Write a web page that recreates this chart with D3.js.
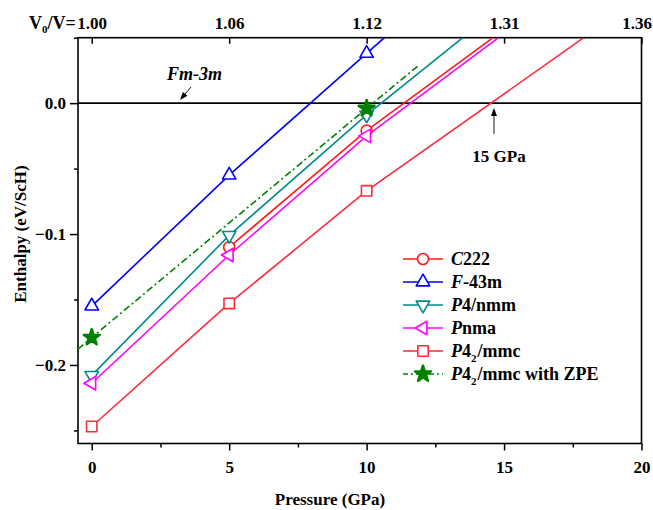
<!DOCTYPE html>
<html>
<head>
<meta charset="utf-8">
<script src="https://cdn.jsdelivr.net/npm/d3@7"></script>
<style>
  body { margin: 0; background: #fff; }
  svg text { font-family: "Liberation Serif", "Times New Roman", serif; font-weight: bold; fill: #000; }
</style>
</head>
<body>
<svg id="chart" width="653" height="510"></svg>
<script>
// Enthalpy (eV/ScH) against pressure (GPa) for ScH phases, relative to Fm-3m.
const seriesNames = ["C222", "F-43m", "P4/nmm", "Pnma", "P42/mmc", "P42/mmc with ZPE"];

const c222P  = [5, 10, 14.6];
const c222H  = [-0.110, -0.021, 0.050];
const f43mP  = [0, 5, 10, 10.65];
const f43mH  = [-0.155, -0.055, 0.038, 0.050];
const p4nmmP = [0, 5, 10, 13.5];
const p4nmmH = [-0.208, -0.101, -0.009, 0.050];
const pnmaP  = [0, 5, 10, 14.8];
const pnmaH  = [-0.214, -0.116, -0.025, 0.050];
const p42P   = [0, 5, 10, 17.9];
const p42H   = [-0.247, -0.153, -0.067, 0.050];
const zpeP   = [-0.5, 0, 10, 11.9];
const zpeH   = [-0.188, -0.179, -0.004, 0.029];

// pressures that carry a symbol
const markedPressures = [0, 5, 10];

const xTicks = [0, 5, 10, 15, 20];
const xMinorTicks = [2.5, 7.5, 12.5, 17.5];
const yTicks = [0.0, -0.1, -0.2];
const yMinorTicks = [0.05, -0.05, -0.15, -0.25];
const topTicks = [0, 5, 10, 15, 20];
const topLabels = ["1.00", "1.06", "1.12", "1.31", "1.36"];

const colors = ["#ff1a1a", "#0000ff", "#008b8b", "#ff00ff", "#ff2a3a", "#008000"];
const shapes = ["circle", "triUp", "triDown", "triLeft", "square", "star"];

const series = seriesNames.map((name, i) => {
  const P = [c222P, f43mP, p4nmmP, pnmaP, p42P, zpeP][i];
  const H = [c222H, f43mH, p4nmmH, pnmaH, p42H, zpeH][i];
  return { name, color: colors[i], shape: shapes[i], points: P.map((p, j) => ({ p, h: H[j] })) };
});

const svg = d3.select("#chart");
const L = 78, R = 641.5, T = 37.7, B = 443.5;

const x = d3.scaleLinear().domain([-0.5, 20]).range([L, R]);
const y = d3.scaleLinear().domain([-0.26, 0.05]).range([B, T]);

svg.append("defs").append("clipPath").attr("id", "plotClip")
  .append("rect").attr("x", L).attr("y", T).attr("width", R - L).attr("height", B - T);

// reference line H = 0
svg.append("line")
  .attr("x1", x(-0.5)).attr("x2", x(20)).attr("y1", y(0)).attr("y2", y(0))
  .attr("stroke", "#000").attr("stroke-width", 1.6);

// axes
const fontSize = 17;
function styleAxis(g) {
  g.select(".domain").remove();
  g.selectAll(".tick line").attr("stroke", "#000").attr("stroke-width", 1.5);
  g.selectAll(".tick text").style("font-size", fontSize + "px");
}

svg.append("g").attr("transform", `translate(0,${B})`)
  .call(d3.axisBottom(x).tickValues(xTicks).tickSize(7).tickPadding(10).tickFormat(d3.format("d")))
  .call(styleAxis);
svg.append("g").attr("transform", `translate(0,${B})`)
  .call(d3.axisBottom(x).tickValues(xMinorTicks).tickSize(4).tickFormat(""))
  .call(styleAxis);

svg.append("g").attr("transform", `translate(${L},0)`)
  .call(d3.axisLeft(y).tickValues(yTicks).tickSize(8).tickPadding(4).tickFormat(d3.format(".1f")))
  .call(styleAxis);
svg.append("g").attr("transform", `translate(${L},0)`)
  .call(d3.axisLeft(y).tickValues(yMinorTicks).tickSize(4).tickFormat(""))
  .call(styleAxis);

// top axis: compression ratio, ticks pointing inward
const topAxis = svg.append("g").attr("transform", `translate(0,${T})`)
  .call(d3.axisTop(x).tickValues(topTicks).tickSize(-6).tickFormat((d, i) => topLabels[i]))
  .call(styleAxis);
topAxis.selectAll(".tick text").attr("y", -9).attr("dy", 0)
  .attr("x", d => d === 20 ? -5 : 0);

// prefix of the first top label
const prefix = svg.append("text")
  .attr("x", x(0) - 16).attr("y", T - 9)
  .attr("text-anchor", "end")
  .style("font-size", "18px");
prefix.append("tspan").text("V");
prefix.append("tspan").attr("dy", 4).style("font-size", "11px").text("0");
prefix.append("tspan").attr("dy", -4).text("/V=");

// frame
svg.append("rect").attr("x", L).attr("y", T).attr("width", R - L).attr("height", B - T)
  .attr("fill", "none").attr("stroke", "#000").attr("stroke-width", 1.6);

// symbol paths centred on the origin
function symbolPath(shape) {
  const s = 13.5, h = s * Math.sqrt(3) / 2;
  switch (shape) {
    case "circle": return d3.symbol(d3.symbolCircle, 95)();
    case "square": return "M-5.2,-5.2H5.2V5.2H-5.2Z";
    case "triUp": return `M0,${-2 * h / 3}L${s / 2},${h / 3}L${-s / 2},${h / 3}Z`;
    case "triDown": return `M0,${2 * h / 3}L${s / 2},${-h / 3}L${-s / 2},${-h / 3}Z`;
    case "triLeft": return `M${-2 * h / 3},0L${h / 3},${-s / 2}L${h / 3},${s / 2}Z`;
    case "star": return d3.symbol(d3.symbolStar, 80)();
  }
}
function styleSymbol(sel, s) {
  const star = s.shape === "star";
  sel.attr("fill", star ? s.color : "#fff")
    .attr("stroke", s.color)
    .attr("stroke-width", star ? 2.4 : 1.6)
    .attr("stroke-linejoin", "round");
}

const line = d3.line().x(d => x(d.p)).y(d => y(d.h));
const plot = svg.append("g").attr("clip-path", "url(#plotClip)");

series.forEach(s => {
  plot.append("path").datum(s.points)
    .attr("d", line)
    .attr("fill", "none")
    .attr("stroke", s.color)
    .attr("stroke-width", 1.6)
    .attr("stroke-dasharray", s.shape === "star" ? "7,3,2,3" : null);
});

series.forEach(s => {
  plot.selectAll(null)
    .data(s.points.filter(d => markedPressures.includes(d.p)))
    .join("path")
    .attr("transform", d => `translate(${x(d.p)},${y(d.h)})`)
    .attr("d", symbolPath(s.shape))
    .call(styleSymbol, s);
});

// legend
const legend = svg.append("g");
const legendLabels = [
  [["C", true], ["222", false]],
  [["F", true], ["-43m", false]],
  [["P", true], ["4/nmm", false]],
  [["P", true], ["nma", false]],
  [["P", true], ["4", false], ["2", false, "sub"], ["/mmc", false]],
  [["P", true], ["4", false], ["2", false, "sub"], ["/mmc with ZPE", false]]
];
series.forEach((s, i) => {
  const cy = 259 + i * 23;
  const row = legend.append("g");
  row.append("line").attr("x1", 403).attr("x2", 443).attr("y1", cy).attr("y2", cy)
    .attr("stroke", s.color).attr("stroke-width", 1.6)
    .attr("stroke-dasharray", s.shape === "star" ? "5,3,2,3" : null);
  row.append("path").attr("transform", `translate(423,${cy})`).attr("d", symbolPath(s.shape))
    .call(styleSymbol, s);
  const t = row.append("text").attr("x", 451).attr("y", cy + 6).style("font-size", "18px");
  let shifted = false;
  legendLabels[i].forEach(([str, ital, sub]) => {
    const ts = t.append("tspan").text(str);
    if (ital) ts.style("font-style", "italic");
    if (sub) { ts.attr("dy", 5).style("font-size", "11px"); shifted = true; }
    else if (shifted) { ts.attr("dy", -5).attr("dx", 1); shifted = false; }
  });
});

// axis titles
svg.append("text").attr("x", 330).attr("y", 505).attr("text-anchor", "middle")
  .style("font-size", "17px").text("Pressure (GPa)");
svg.append("text").attr("transform", "translate(26,234) rotate(-90)").attr("text-anchor", "middle")
  .style("font-size", "17px").text("Enthalpy (eV/ScH)");

// annotations
function arrow(x1, y1, x2, y2) {
  const a = Math.atan2(y2 - y1, x2 - x1), len = 8, w = 3;
  svg.append("line").attr("x1", x1).attr("y1", y1).attr("x2", x2 - Math.cos(a) * len * 0.8).attr("y2", y2 - Math.sin(a) * len * 0.8)
    .attr("stroke", "#000").attr("stroke-width", 0.9);
  const bx = x2 - Math.cos(a) * len, by = y2 - Math.sin(a) * len;
  svg.append("path")
    .attr("d", `M${x2},${y2}L${bx - Math.sin(a) * w},${by + Math.cos(a) * w}L${bx + Math.sin(a) * w},${by - Math.cos(a) * w}Z`)
    .attr("fill", "#000");
}
svg.append("text").attr("x", 167).attr("y", 80).style("font-size", "18px").style("font-style", "italic")
  .text("Fm-3m");
arrow(191, 87, 180, 100);

svg.append("text").attr("x", 499).attr("y", 162).attr("text-anchor", "middle").style("font-size", "17px")
  .text("15 GPa");
arrow(494, 134, 494, 108);
</script>
</body>
</html>
